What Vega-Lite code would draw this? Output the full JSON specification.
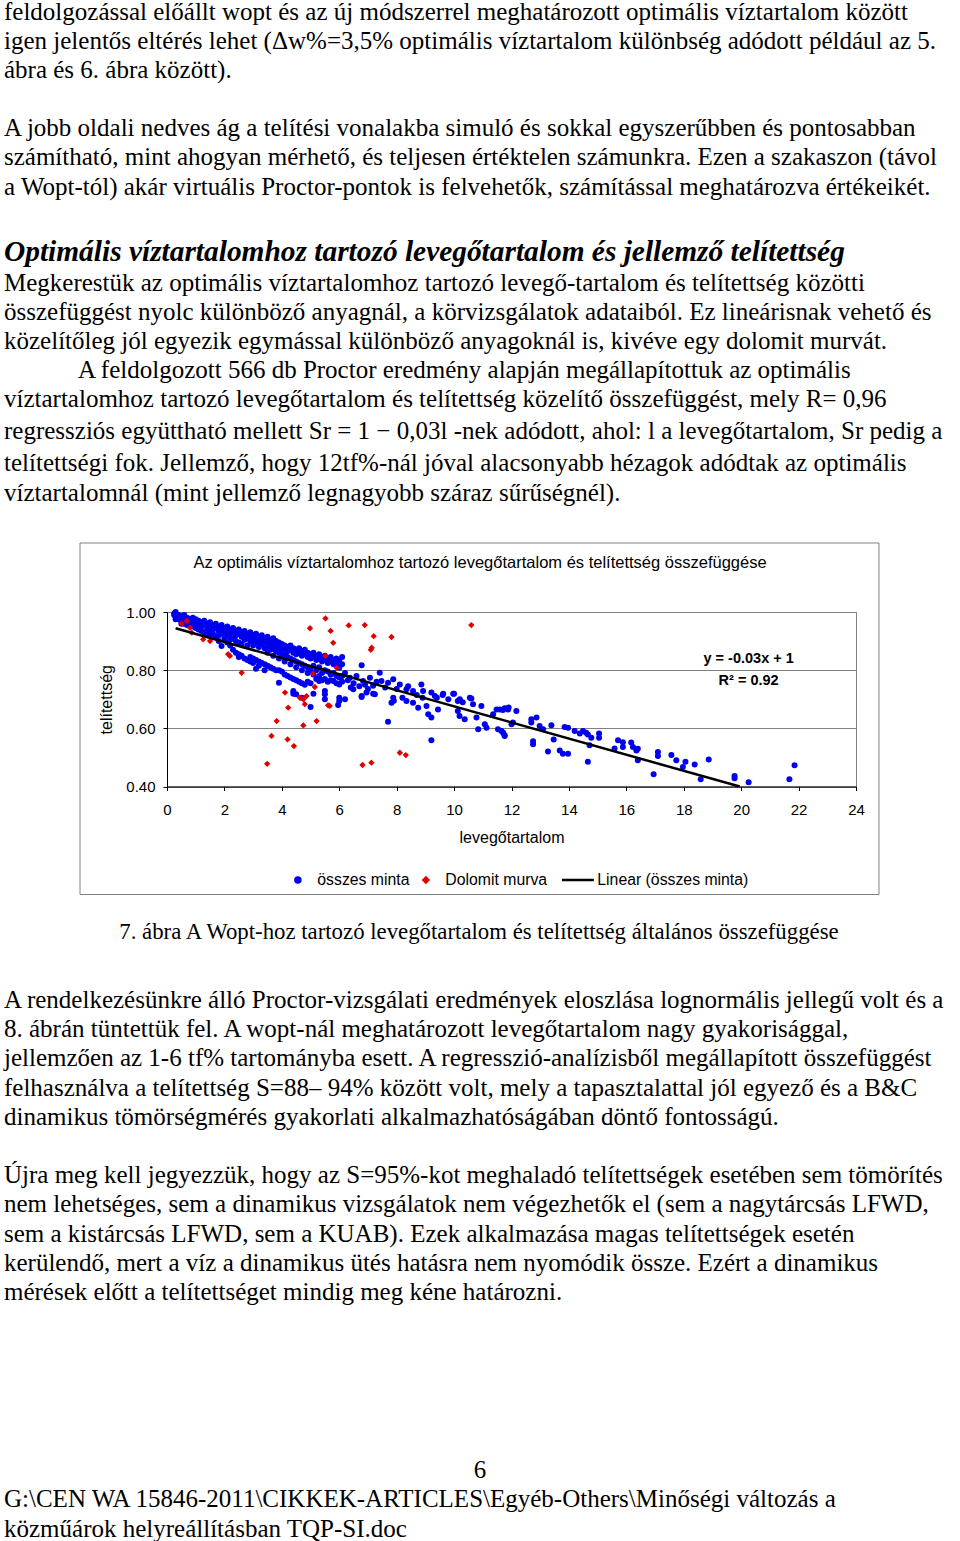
{
"$schema": "https://vega.github.io/schema/vega-lite/v6.json",
"background": "white",
"padding": 0,
"spacing": 0,
"bounds": "full",
"resolve": {"scale": {"color": "independent", "shape": "independent"}, "legend": {"color": "independent", "shape": "independent"}},
"config": {
  "view": {"stroke": null},
  "axis": {"labelFont": "Liberation Sans", "titleFont": "Liberation Sans", "labelColor": "#000", "titleColor": "#000", "domainColor": "#000", "tickColor": "#000", "tickSize": 4, "titleFontWeight": "normal"},
  "legend": {"orient": "none", "legendX": 123, "legendY": 260, "direction": "horizontal", "labelFont": "Liberation Sans", "labelFontSize": 15.8, "labelColor": "#000", "labelOffset": 11.5, "columnPadding": 8, "symbolSize": 25, "symbolStrokeWidth": 2.5, "padding": 0}
},
"datasets": {
  "osszes": [
    {"l":0.25,"t":0.995},{"l":0.25,"t":0.99},
    {"l":0.3,"t":1.0},{"l":0.3,"t":0.985},{"l":0.3,"t":0.975},
    {"l":0.4,"t":0.99},{"l":0.4,"t":0.975},
    {"l":0.5,"t":0.985},{"l":0.5,"t":0.97},{"l":0.5,"t":0.96},
    {"l":0.6,"t":0.99},{"l":0.6,"t":0.975},{"l":0.6,"t":0.96},
    {"l":0.7,"t":0.98},{"l":0.7,"t":0.965},{"l":0.7,"t":0.955},
    {"l":0.8,"t":0.975},{"l":0.8,"t":0.96},
    {"l":0.9,"t":0.98},{"l":0.9,"t":0.97},{"l":0.9,"t":0.95},
    {"l":1.0,"t":0.975},{"l":1.0,"t":0.96},{"l":1.0,"t":0.945},
    {"l":1.1,"t":0.97},{"l":1.1,"t":0.955},{"l":1.1,"t":0.94},
    {"l":1.2,"t":0.965},{"l":1.2,"t":0.95},{"l":1.2,"t":0.935},
    {"l":1.3,"t":0.97},{"l":1.3,"t":0.955},{"l":1.3,"t":0.93},
    {"l":1.4,"t":0.96},{"l":1.4,"t":0.945},{"l":1.4,"t":0.925},
    {"l":1.5,"t":0.965},{"l":1.5,"t":0.95},{"l":1.5,"t":0.935},{"l":1.5,"t":0.92},
    {"l":1.6,"t":0.955},{"l":1.6,"t":0.94},{"l":1.6,"t":0.925},
    {"l":1.7,"t":0.96},{"l":1.7,"t":0.945},{"l":1.7,"t":0.915},
    {"l":1.8,"t":0.95},{"l":1.8,"t":0.935},{"l":1.8,"t":0.92},{"l":1.8,"t":0.9},
    {"l":1.9,"t":0.955},{"l":1.9,"t":0.94},{"l":1.9,"t":0.925},{"l":1.9,"t":0.883},
    {"l":2.0,"t":0.945},{"l":2.0,"t":0.93},{"l":2.0,"t":0.91},
    {"l":2.1,"t":0.95},{"l":2.1,"t":0.935},{"l":2.1,"t":0.92},{"l":2.1,"t":0.895},
    {"l":2.2,"t":0.94},{"l":2.2,"t":0.925},{"l":2.2,"t":0.905},{"l":2.2,"t":0.885},
    {"l":2.3,"t":0.945},{"l":2.3,"t":0.93},{"l":2.3,"t":0.91},{"l":2.3,"t":0.87},
    {"l":2.4,"t":0.935},{"l":2.4,"t":0.92},{"l":2.4,"t":0.9},{"l":2.4,"t":0.86},
    {"l":2.5,"t":0.94},{"l":2.5,"t":0.925},{"l":2.5,"t":0.895},{"l":2.5,"t":0.855},{"l":2.5,"t":0.845},
    {"l":2.6,"t":0.93},{"l":2.6,"t":0.915},{"l":2.6,"t":0.89},{"l":2.6,"t":0.85},
    {"l":2.7,"t":0.935},{"l":2.7,"t":0.92},{"l":2.7,"t":0.905},{"l":2.7,"t":0.84},
    {"l":2.8,"t":0.925},{"l":2.8,"t":0.91},{"l":2.8,"t":0.885},{"l":2.8,"t":0.835},
    {"l":2.9,"t":0.93},{"l":2.9,"t":0.915},{"l":2.9,"t":0.9},{"l":2.9,"t":0.845},{"l":2.9,"t":0.83},
    {"l":3.0,"t":0.92},{"l":3.0,"t":0.905},{"l":3.0,"t":0.885},{"l":3.0,"t":0.84},{"l":3.0,"t":0.825},
    {"l":3.1,"t":0.925},{"l":3.1,"t":0.91},{"l":3.1,"t":0.895},{"l":3.1,"t":0.835},{"l":3.1,"t":0.805},
    {"l":3.2,"t":0.915},{"l":3.2,"t":0.9},{"l":3.2,"t":0.88},{"l":3.2,"t":0.83},{"l":3.2,"t":0.815},
    {"l":3.3,"t":0.92},{"l":3.3,"t":0.905},{"l":3.3,"t":0.89},{"l":3.3,"t":0.825},
    {"l":3.4,"t":0.91},{"l":3.4,"t":0.895},{"l":3.4,"t":0.875},{"l":3.4,"t":0.82},{"l":3.4,"t":0.8},
    {"l":3.5,"t":0.915},{"l":3.5,"t":0.9},{"l":3.5,"t":0.88},{"l":3.5,"t":0.86},{"l":3.5,"t":0.815},
    {"l":3.6,"t":0.905},{"l":3.6,"t":0.89},{"l":3.6,"t":0.87},{"l":3.6,"t":0.81},
    {"l":3.7,"t":0.91},{"l":3.7,"t":0.895},{"l":3.7,"t":0.875},{"l":3.7,"t":0.85},{"l":3.7,"t":0.805},
    {"l":3.8,"t":0.9},{"l":3.8,"t":0.885},{"l":3.8,"t":0.865},{"l":3.8,"t":0.8},
    {"l":3.9,"t":0.895},{"l":3.9,"t":0.88},{"l":3.9,"t":0.86},{"l":3.9,"t":0.84},{"l":3.9,"t":0.8},{"l":3.9,"t":0.757},
    {"l":4.0,"t":0.89},{"l":4.0,"t":0.875},{"l":4.0,"t":0.855},{"l":4.0,"t":0.795},
    {"l":4.1,"t":0.885},{"l":4.1,"t":0.87},{"l":4.1,"t":0.85},{"l":4.1,"t":0.83},{"l":4.1,"t":0.785},
    {"l":4.2,"t":0.88},{"l":4.2,"t":0.865},{"l":4.2,"t":0.845},{"l":4.2,"t":0.78},
    {"l":4.3,"t":0.885},{"l":4.3,"t":0.87},{"l":4.3,"t":0.84},{"l":4.3,"t":0.82},{"l":4.3,"t":0.775},
    {"l":4.4,"t":0.875},{"l":4.4,"t":0.86},{"l":4.4,"t":0.835},{"l":4.4,"t":0.77},{"l":4.4,"t":0.728},{"l":4.4,"t":0.719},
    {"l":4.5,"t":0.87},{"l":4.5,"t":0.855},{"l":4.5,"t":0.83},{"l":4.5,"t":0.81},{"l":4.5,"t":0.765},{"l":4.5,"t":0.717},
    {"l":4.6,"t":0.875},{"l":4.6,"t":0.86},{"l":4.6,"t":0.825},{"l":4.6,"t":0.76},
    {"l":4.7,"t":0.865},{"l":4.7,"t":0.85},{"l":4.7,"t":0.82},{"l":4.7,"t":0.8},{"l":4.7,"t":0.755},{"l":4.7,"t":0.705},
    {"l":4.8,"t":0.87},{"l":4.8,"t":0.855},{"l":4.8,"t":0.815},{"l":4.8,"t":0.75},
    {"l":4.9,"t":0.86},{"l":4.9,"t":0.845},{"l":4.9,"t":0.81},{"l":4.9,"t":0.79},{"l":4.9,"t":0.76},
    {"l":5.0,"t":0.855},{"l":5.0,"t":0.84},{"l":5.0,"t":0.8},{"l":5.0,"t":0.755},{"l":5.0,"t":0.673},
    {"l":5.1,"t":0.86},{"l":5.1,"t":0.845},{"l":5.1,"t":0.815},{"l":5.1,"t":0.785},{"l":5.1,"t":0.719},
    {"l":5.2,"t":0.85},{"l":5.2,"t":0.835},{"l":5.2,"t":0.8},{"l":5.2,"t":0.77},
    {"l":5.3,"t":0.855},{"l":5.3,"t":0.84},{"l":5.3,"t":0.81},{"l":5.3,"t":0.78},{"l":5.3,"t":0.763},
    {"l":5.4,"t":0.845},{"l":5.4,"t":0.83},{"l":5.4,"t":0.79},{"l":5.4,"t":0.765},
    {"l":5.5,"t":0.85},{"l":5.5,"t":0.835},{"l":5.5,"t":0.8},{"l":5.5,"t":0.77},{"l":5.5,"t":0.728},{"l":5.5,"t":0.717},{"l":5.5,"t":0.7},
    {"l":5.6,"t":0.84},{"l":5.6,"t":0.825},{"l":5.6,"t":0.795},{"l":5.6,"t":0.76},
    {"l":5.7,"t":0.845},{"l":5.7,"t":0.83},{"l":5.7,"t":0.785},{"l":5.7,"t":0.765},
    {"l":5.8,"t":0.835},{"l":5.8,"t":0.82},{"l":5.8,"t":0.79},{"l":5.8,"t":0.763},
    {"l":5.9,"t":0.84},{"l":5.9,"t":0.825},{"l":5.9,"t":0.78},{"l":5.9,"t":0.755},
    {"l":6.0,"t":0.832},{"l":6.0,"t":0.808},{"l":6.0,"t":0.775},{"l":6.0,"t":0.751},{"l":6.0,"t":0.705},{"l":6.0,"t":0.694},
    {"l":6.1,"t":0.845},{"l":6.1,"t":0.82},{"l":6.1,"t":0.78},{"l":6.1,"t":0.76},
    {"l":6.78,"t":0.817},{"l":6.37,"t":0.774},{"l":6.6,"t":0.78},{"l":6.83,"t":0.763},{"l":7.07,"t":0.774},{"l":7.18,"t":0.746},
    {"l":7.41,"t":0.791},{"l":7.47,"t":0.763},{"l":7.7,"t":0.757},{"l":7.88,"t":0.769},{"l":8.11,"t":0.751},{"l":8.34,"t":0.734},
    {"l":8.57,"t":0.728},{"l":8.86,"t":0.751},{"l":8.92,"t":0.728},{"l":9.21,"t":0.723},{"l":9.62,"t":0.719},{"l":9.97,"t":0.719},
    {"l":6.49,"t":0.734},{"l":6.4,"t":0.74},{"l":6.95,"t":0.723},{"l":6.78,"t":0.708},{"l":7.24,"t":0.717},{"l":7.88,"t":0.705},
    {"l":8.2,"t":0.705},{"l":8.9,"t":0.705},{"l":10.2,"t":0.7},{"l":10.6,"t":0.703},{"l":6.2,"t":0.7},{"l":5.96,"t":0.68},
    {"l":6.78,"t":0.711},{"l":7.18,"t":0.719},{"l":7.7,"t":0.623},{"l":7.82,"t":0.688},{"l":7.9,"t":0.695},{"l":8.34,"t":0.694},
    {"l":8.57,"t":0.688},{"l":8.75,"t":0.671},{"l":9.04,"t":0.677},{"l":9.1,"t":0.648},{"l":9.21,"t":0.637},{"l":9.21,"t":0.559},
    {"l":9.44,"t":0.665},{"l":9.33,"t":0.711},{"l":9.6,"t":0.715},{"l":10.0,"t":0.719},{"l":10.13,"t":0.694},{"l":10.13,"t":0.66},
    {"l":10.19,"t":0.642},{"l":10.37,"t":0.631},{"l":10.55,"t":0.705},{"l":10.66,"t":0.683},{"l":10.78,"t":0.637},{"l":10.95,"t":0.677},
    {"l":10.84,"t":0.597},{"l":11.07,"t":0.614},{"l":11.13,"t":0.602},{"l":11.48,"t":0.665},{"l":11.53,"t":0.597},{"l":11.71,"t":0.585},
    {"l":11.76,"t":0.574},{"l":11.36,"t":0.648},{"l":11.76,"t":0.669},{"l":11.9,"t":0.672},
    {"l":6.2,"t":0.79},{"l":6.3,"t":0.765},{"l":6.5,"t":0.755},{"l":6.7,"t":0.745},{"l":6.9,"t":0.75},{"l":7.0,"t":0.735},
    {"l":7.3,"t":0.76},{"l":7.6,"t":0.74},{"l":8.0,"t":0.735},{"l":8.4,"t":0.745},{"l":8.7,"t":0.715},{"l":9.4,"t":0.705},
    {"l":9.8,"t":0.7},{"l":10.3,"t":0.69},
    {"l":11.59,"t":0.665},{"l":11.7,"t":0.663},{"l":11.88,"t":0.665},{"l":12.17,"t":0.66},{"l":12.0,"t":0.614},{"l":12.05,"t":0.62},
    {"l":11.65,"t":0.591},{"l":11.76,"t":0.576},{"l":12.69,"t":0.631},{"l":12.87,"t":0.637},{"l":12.69,"t":0.62},{"l":12.98,"t":0.608},
    {"l":13.1,"t":0.597},{"l":13.39,"t":0.611},{"l":12.75,"t":0.556},{"l":12.75,"t":0.545},{"l":13.27,"t":0.52},{"l":13.47,"t":0.562},
    {"l":13.68,"t":0.524},{"l":13.79,"t":0.513},{"l":13.97,"t":0.513},{"l":13.85,"t":0.605},{"l":13.97,"t":0.602},{"l":14.2,"t":0.591},
    {"l":14.38,"t":0.582},{"l":14.49,"t":0.591},{"l":14.6,"t":0.585},{"l":14.66,"t":0.579},{"l":14.78,"t":0.568},{"l":14.72,"t":0.542},
    {"l":14.66,"t":0.485},{"l":15.05,"t":0.582},{"l":15.05,"t":0.568},{"l":15.59,"t":0.531},{"l":15.71,"t":0.559},{"l":15.88,"t":0.552},
    {"l":15.88,"t":0.536},{"l":16.17,"t":0.551},{"l":16.23,"t":0.536},{"l":16.35,"t":0.524},{"l":16.4,"t":0.53},{"l":16.4,"t":0.49},
    {"l":16.95,"t":0.442},{"l":17.1,"t":0.519},{"l":17.1,"t":0.505},{"l":17.57,"t":0.508},{"l":17.74,"t":0.49},
    {"l":17.97,"t":0.467},{"l":18.06,"t":0.485},{"l":18.38,"t":0.476},{"l":18.59,"t":0.425},{"l":18.87,"t":0.493},
    {"l":19.77,"t":0.436},{"l":19.77,"t":0.428},{"l":20.26,"t":0.415},{"l":21.68,"t":0.425},{"l":21.86,"t":0.473}
  ],
  "dolomit": [
    {"l":0.51,"t":0.96},{"l":0.69,"t":0.969},{"l":0.8,"t":0.946},{"l":0.86,"t":0.929},{"l":1.26,"t":0.906},{"l":1.5,"t":0.9},
    {"l":2.13,"t":0.855},{"l":2.19,"t":0.849},{"l":2.6,"t":0.791},{"l":5.52,"t":0.978},{"l":4.98,"t":0.944},{"l":5.7,"t":0.935},
    {"l":5.79,"t":0.894},{"l":5.52,"t":0.849},{"l":5.91,"t":0.808},{"l":5.09,"t":0.788},{"l":5.15,"t":0.742},{"l":4.11,"t":0.723},
    {"l":4.63,"t":0.705},{"l":4.75,"t":0.7},{"l":4.86,"t":0.711},{"l":4.8,"t":0.683},{"l":4.22,"t":0.671},{"l":3.82,"t":0.625},
    {"l":4.75,"t":0.61},{"l":5.21,"t":0.625},{"l":5.61,"t":0.679},{"l":3.64,"t":0.574},{"l":4.2,"t":0.562},{"l":4.42,"t":0.539},
    {"l":3.49,"t":0.478},{"l":6.33,"t":0.954},{"l":6.89,"t":0.955},{"l":7.2,"t":0.917},{"l":7.82,"t":0.914},{"l":7.13,"t":0.877},
    {"l":7.1,"t":0.87},{"l":10.6,"t":0.955},{"l":5.67,"t":0.677},{"l":6.81,"t":0.474},{"l":7.12,"t":0.482},{"l":8.11,"t":0.516},
    {"l":8.32,"t":0.508}
  ],
  "trend": [{"l":0.3,"t":0.944},{"l":19.95,"t":0.4}],
  "egyenlet": [{"l":20.26,"t":0.838,"felirat":"y = -0.03x + 1"},{"l":20.26,"t":0.763,"felirat":"R² = 0.92"}]
},
"vconcat": [
  {
    "width": 960,
    "height": 541,
    "layer": [
      {
        "data": {"values": [
          {"sor":0,"beh":0,"szoveg":"feldolgozással előállt wopt és az új módszerrel meghatározott optimális víztartalom között"},
          {"sor":1,"beh":0,"szoveg":"igen jelentős eltérés lehet  (Δw%=3,5% optimális víztartalom különbség adódott például az 5."},
          {"sor":2,"beh":0,"szoveg":"ábra és 6. ábra között)."},
          {"sor":4,"beh":0,"szoveg":"A jobb oldali nedves ág a telítési vonalakba simuló és sokkal egyszerűbben és pontosabban"},
          {"sor":5,"beh":0,"szoveg":"számítható, mint ahogyan mérhető, és teljesen értéktelen számunkra. Ezen a szakaszon (távol"},
          {"sor":6,"beh":0,"szoveg":"a Wopt-tól) akár virtuális Proctor-pontok is felvehetők, számítással meghatározva értékeikét."},
          {"sor":9.32,"beh":0,"szoveg":"Megkerestük az optimális víztartalomhoz tartozó levegő-tartalom és telítettség közötti"},
          {"sor":10.32,"beh":0,"szoveg":"összefüggést nyolc különböző anyagnál, a körvizsgálatok adataiból. Ez lineárisnak vehető és"},
          {"sor":11.32,"beh":0,"szoveg":"közelítőleg jól egyezik egymással különböző anyagoknál is, kivéve egy dolomit murvát."},
          {"sor":12.32,"beh":3.08,"szoveg":"A feldolgozott 566 db Proctor eredmény alapján megállapítottuk az optimális"},
          {"sor":13.32,"beh":0,"szoveg":"víztartalomhoz tartozó levegőtartalom és telítettség közelítő összefüggést, mely R= 0,96"},
          {"sor":14.42,"beh":0,"szoveg":"regressziós együttható mellett Sr = 1 − 0,03l -nek adódott, ahol: l a levegőtartalom, Sr pedig a"},
          {"sor":15.52,"beh":0,"szoveg":"telítettségi fok. Jellemző, hogy 12tf%-nál jóval alacsonyabb hézagok adódtak az optimális"},
          {"sor":16.52,"beh":0,"szoveg":"víztartalomnál (mint jellemző legnagyobb száraz sűrűségnél)."}
        ]},
        "mark": {"type": "text", "align": "left", "baseline": "middle", "font": "Liberation Serif", "fontSize": 25, "color": "#000"},
        "encoding": {
          "x": {"field": "beh", "type": "quantitative", "scale": {"domain": [0, 40], "range": [4, 964], "nice": false, "zero": false}, "axis": null},
          "y": {"field": "sor", "type": "quantitative", "scale": {"domain": [-0.413, 18.185], "reverse": true, "nice": false, "zero": false}, "axis": null},
          "text": {"field": "szoveg"}
        }
      },
      {
        "data": {"values": [
          {"sor":8.25,"beh":0,"szoveg":"Optimális víztartalomhoz tartozó levegőtartalom és jellemző telítettség"}
        ]},
        "mark": {"type": "text", "align": "left", "baseline": "middle", "font": "Liberation Serif", "fontSize": 29.4, "fontStyle": "italic", "fontWeight": "bold", "color": "#000"},
        "encoding": {
          "x": {"field": "beh", "type": "quantitative"},
          "y": {"field": "sor", "type": "quantitative"},
          "text": {"field": "szoveg"}
        }
      }
    ]
  },
  {
    "spacing": 0,
    "resolve": {"scale": {"color": "independent", "shape": "independent"}, "legend": {"color": "independent", "shape": "independent"}},
    "hconcat": [
      {
        "width": 79,
        "height": 10,
        "data": {"values": []},
        "mark": {"type": "point", "opacity": 0}
      },
      {
        "width": 689,
        "height": 174.5,
        "view": {"stroke": "#808080"},
        "title": {"text": "Az optimális víztartalomhoz tartozó levegőtartalom és telítettség összefüggése", "font": "Liberation Sans", "fontSize": 16.5, "fontWeight": "normal", "color": "#000", "anchor": "middle", "frame": "group", "dx": -31.5, "baseline": "bottom", "offset": -45},
        "layer": [
          {
            "data": {"values": [{}]},
            "mark": {"type": "rect", "filled": false, "stroke": "#808080", "strokeWidth": 1},
            "encoding": {
              "x": {"datum": -3.03, "type": "quantitative"},
              "x2": {"datum": 24.8},
              "y": {"datum": 0.0287, "type": "quantitative"},
              "y2": {"datum": 1.2373}
            }
          },
          {
            "data": {"name": "osszes"},
            "mark": {"type": "point", "filled": true, "size": 36, "opacity": 1},
            "encoding": {
              "x": {"field": "l", "type": "quantitative", "scale": {"domain": [0, 24], "nice": false, "zero": false},
                    "axis": {"values": [0,2,4,6,8,10,12,14,16,18,20,22,24], "format": "d", "grid": false, "title": "levegőtartalom", "labelFontSize": 15, "labelPadding": 12, "labelFlush": false, "labelOverlap": false, "titleFontSize": 16, "titlePadding": 12}},
              "y": {"field": "t", "type": "quantitative", "scale": {"domain": [0.4, 1.0], "nice": false, "zero": false},
                    "axis": {"values": [0.4, 0.6, 0.8, 1.0], "format": ".2f", "grid": true, "gridColor": "#808080", "gridOpacity": 1, "title": "telítettség", "labelFontSize": 15, "labelPadding": 8, "titleFontSize": 16, "titlePadding": 11}},
              "color": {"datum": "összes minta", "scale": {"domain": ["összes minta", "Dolomit murva", "Linear (összes minta)"], "range": ["#0000ee", "#e00000", "#000000"]},
                        "legend": {"title": null, "encode": {"symbols": {"update": {
                          "fill": {"scale": "color", "field": "value"},
                          "stroke": {"signal": "datum.value === 'Linear (összes minta)' ? '#000000' : 'transparent'"},
                          "strokeWidth": {"value": 2.5},
                          "opacity": {"value": 1}}}}}},
              "shape": {"datum": "összes minta", "scale": {"domain": ["összes minta", "Dolomit murva", "Linear (összes minta)"], "range": ["circle", "diamond", "M-6.4,0L6.4,0"]},
                        "legend": {"title": null, "encode": {"symbols": {"update": {
                          "fill": {"scale": "color", "field": "value"},
                          "stroke": {"signal": "datum.value === 'Linear (összes minta)' ? '#000000' : 'transparent'"},
                          "strokeWidth": {"value": 2.5},
                          "opacity": {"value": 1}}}}}}
            }
          },
          {
            "data": {"name": "dolomit"},
            "mark": {"type": "point", "filled": true, "size": 40, "opacity": 1},
            "encoding": {
              "x": {"field": "l", "type": "quantitative"},
              "y": {"field": "t", "type": "quantitative"},
              "color": {"datum": "Dolomit murva"},
              "shape": {"datum": "Dolomit murva"}
            }
          },
          {
            "data": {"name": "trend"},
            "mark": {"type": "line", "strokeWidth": 2.5},
            "encoding": {
              "x": {"field": "l", "type": "quantitative"},
              "y": {"field": "t", "type": "quantitative"},
              "color": {"datum": "Linear (összes minta)"}
            }
          },
          {
            "data": {"name": "egyenlet"},
            "mark": {"type": "text", "font": "Liberation Sans", "fontSize": 14.5, "fontWeight": "bold", "align": "center", "baseline": "middle", "color": "#000"},
            "encoding": {
              "x": {"field": "l", "type": "quantitative"},
              "y": {"field": "t", "type": "quantitative"},
              "text": {"field": "felirat"}
            }
          }
        ]
      }
    ]
  },
  {
    "width": 960,
    "height": 647,
    "layer": [
      {
        "data": {"values": [
          {"sor":0,"beh":0,"szoveg":"A rendelkezésünkre álló Proctor-vizsgálati eredmények eloszlása lognormális jellegű volt és a"},
          {"sor":1,"beh":0,"szoveg":"8. ábrán tüntettük fel. A wopt-nál meghatározott levegőtartalom nagy gyakorisággal,"},
          {"sor":2,"beh":0,"szoveg":"jellemzően az 1-6 tf% tartományba esett. A regresszió-analízisből megállapított összefüggést"},
          {"sor":3,"beh":0,"szoveg":"felhasználva a telítettség S=88– 94% között volt, mely a tapasztalattal jól egyező és a B&C"},
          {"sor":4,"beh":0,"szoveg":"dinamikus tömörségmérés gyakorlati alkalmazhatóságában döntő fontosságú."},
          {"sor":6,"beh":0,"szoveg":"Újra meg kell jegyezzük, hogy az S=95%-kot meghaladó telítettségek esetében sem tömörítés"},
          {"sor":7,"beh":0,"szoveg":"nem lehetséges, sem a dinamikus vizsgálatok nem végezhetők el (sem a nagytárcsás LFWD,"},
          {"sor":8,"beh":0,"szoveg":"sem a kistárcsás LFWD, sem a KUAB). Ezek alkalmazása magas telítettségek esetén"},
          {"sor":9,"beh":0,"szoveg":"kerülendő, mert a víz a dinamikus ütés hatásra nem nyomódik össze. Ezért a dinamikus"},
          {"sor":10,"beh":0,"szoveg":"mérések előtt a telítettséget mindig meg kéne határozni."},
          {"sor":17.1,"beh":0,"szoveg":"G:\\CEN WA 15846-2011\\CIKKEK-ARTICLES\\Egyéb-Others\\Minőségi változás a"},
          {"sor":18.1,"beh":0,"szoveg":"közműárok helyreállításban TQP-SI.doc"}
        ]},
        "mark": {"type": "text", "align": "left", "baseline": "middle", "font": "Liberation Serif", "fontSize": 25, "color": "#000"},
        "encoding": {
          "x": {"field": "beh", "type": "quantitative", "scale": {"domain": [0, 40], "range": [4, 964], "nice": false, "zero": false}, "axis": null},
          "y": {"field": "sor", "type": "quantitative", "scale": {"domain": [-3.562, 18.596], "reverse": true, "nice": false, "zero": false}, "axis": null},
          "text": {"field": "szoveg"}
        }
      },
      {
        "data": {"values": [
          {"sor":-2.33,"beh":19.79,"szoveg":"7. ábra A Wopt-hoz tartozó levegőtartalom és telítettség általános összefüggése"}
        ]},
        "mark": {"type": "text", "align": "center", "baseline": "middle", "font": "Liberation Serif", "fontSize": 22.8, "color": "#000"},
        "encoding": {
          "x": {"field": "beh", "type": "quantitative"},
          "y": {"field": "sor", "type": "quantitative"},
          "text": {"field": "szoveg"}
        }
      },
      {
        "data": {"values": [
          {"sor":16.1,"beh":19.83,"szoveg":"6"}
        ]},
        "mark": {"type": "text", "align": "center", "baseline": "middle", "font": "Liberation Serif", "fontSize": 25, "color": "#000"},
        "encoding": {
          "x": {"field": "beh", "type": "quantitative"},
          "y": {"field": "sor", "type": "quantitative"},
          "text": {"field": "szoveg"}
        }
      }
    ]
  }
]
}
